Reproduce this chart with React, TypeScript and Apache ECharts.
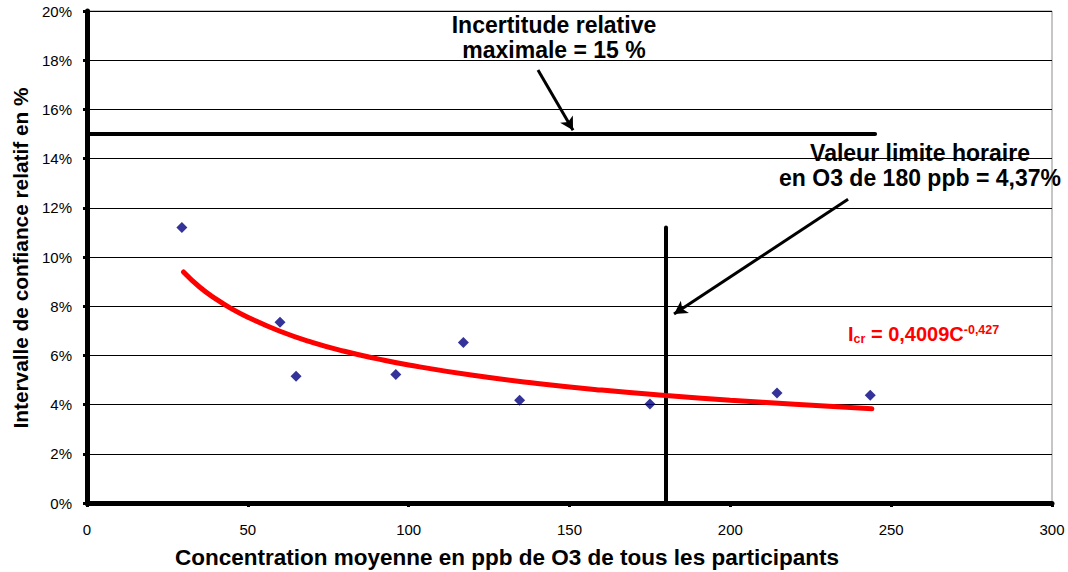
import React, { useEffect, useRef } from "react";
import * as echarts from "echarts";

// Measured points: concentration (ppb) vs relative confidence interval (%)
const concentrations = [29.5, 60, 65, 96, 117, 134.5, 175, 214.5, 243.5];
const intervals = [11.2, 7.35, 5.15, 5.22, 6.52, 4.18, 4.02, 4.47, 4.38];

// Power trend line
const trendX = [30, 35, 40, 45, 50, 60, 70, 80, 90, 100, 120, 140, 160, 180, 200, 220, 244];
const trendY = [9.39, 8.78, 8.3, 7.89, 7.55, 6.98, 6.53, 6.17, 5.87, 5.61, 5.19, 4.86, 4.59, 4.37, 4.18, 4.01, 3.83];

// Reference lines
const maxUncertaintyX = [0, 245];
const maxUncertaintyY = [15, 15];
const limitX = [180, 180];
const limitY = [0, 11.2];

// Arrow annotations (data coords: start, end)
const arrow1 = [[140.2, 17.6], [151.1, 15.15]];
const arrow2 = [[236.6, 12.35], [182.5, 7.68]];

const xTicks = { min: 0, max: 300, interval: 50 };
const yTicks = { min: 0, max: 20, interval: 2 };

const FONT = '"Liberation Sans", Arial, sans-serif';

export default function App() {
  const ref = useRef<HTMLDivElement>(null);
  useEffect(() => {
    if (!ref.current) return;
    const chart = echarts.init(ref.current, null, { renderer: "svg" });
    const bold = (size: number) => ({ fontFamily: FONT, fontWeight: "bold", fontSize: size, fill: "#000" });
    chart.setOption({
      animation: false,
      backgroundColor: "#fff",
      grid: {
        left: 87, right: 16, top: 11, bottom: 69, containLabel: false,
        show: true, borderColor: "#8c8c8c", borderWidth: 1, backgroundColor: "transparent",
      },
      xAxis: {
        type: "value", min: xTicks.min, max: xTicks.max, interval: xTicks.interval,
        axisLine: { show: true, onZero: false, lineStyle: { color: "#000", width: 5 } },
        axisTick: { show: true, inside: false, length: 4, lineStyle: { color: "#000", width: 3 } },
        axisLabel: { color: "#000", fontFamily: FONT, fontSize: 15, margin: 19 },
        splitLine: { show: false },
      },
      yAxis: {
        type: "value", min: yTicks.min, max: yTicks.max, interval: yTicks.interval,
        axisLine: { show: true, onZero: false, lineStyle: { color: "#000", width: 5 } },
        axisTick: { show: true, inside: false, length: 4, lineStyle: { color: "#000", width: 3 } },
        axisLabel: { color: "#000", fontFamily: FONT, fontSize: 15, margin: 15, formatter: "{value}%" },
        splitLine: { show: true, lineStyle: { color: "#000", width: 1 } },
      },
      series: [
        {
          type: "line",
          data: maxUncertaintyX.map((x, i) => [x, maxUncertaintyY[i]]),
          showSymbol: false, symbol: "none",
          lineStyle: { color: "#000", width: 4, cap: "round" },
          z: 3,
          markLine: {
            silent: true,
            symbol: ["none", "arrow"],
            symbolSize: [11, 13],
            label: { show: false },
            lineStyle: { color: "#000", width: 3, type: "solid" },
            data: [
              [{ coord: arrow1[0] }, { coord: arrow1[1] }],
              [{ coord: arrow2[0] }, { coord: arrow2[1] }],
            ],
          },
        },
        {
          type: "line",
          data: limitX.map((x, i) => [x, limitY[i]]),
          showSymbol: false, symbol: "none",
          lineStyle: { color: "#000", width: 4, cap: "round" },
          z: 3,
        },
        {
          type: "line",
          data: trendX.map((x, i) => [x, trendY[i]]),
          showSymbol: false, symbol: "none", smooth: true,
          lineStyle: { color: "#ff0000", width: 5, cap: "round" },
          z: 4,
        },
        {
          type: "scatter",
          data: concentrations.map((x, i) => [x, intervals[i]]),
          symbol: "diamond", symbolSize: 11,
          itemStyle: { color: "#000080" },
          z: 5,
        },
      ],
      graphic: [
        { type: "text", x: 507, y: 557, style: { ...bold(22.5), text: "Concentration moyenne en ppb de O3 de tous les participants", textAlign: "center", textVerticalAlign: "middle" } },
        { type: "text", x: 20, y: 258, rotation: Math.PI / 2, style: { ...bold(20.8), text: "Intervalle de confiance relatif en %", textAlign: "center", textVerticalAlign: "middle" } },
        { type: "text", x: 554, y: 25, style: { ...bold(23), text: "Incertitude relative", textAlign: "center", textVerticalAlign: "middle" } },
        { type: "text", x: 554, y: 50, style: { ...bold(23), text: "maximale = 15 %", textAlign: "center", textVerticalAlign: "middle" } },
        { type: "text", x: 920, y: 153, style: { ...bold(23), text: "Valeur limite horaire", textAlign: "center", textVerticalAlign: "middle" } },
        { type: "text", x: 920, y: 178, style: { ...bold(23), text: "en O3 de 180 ppb = 4,37%", textAlign: "center", textVerticalAlign: "middle" } },
        {
          type: "text", x: 848, y: 334,
          style: {
            text: "{m|I}{sub|cr}{m| = 0,4009C}{sup|-0,427}",
            textAlign: "left", textVerticalAlign: "middle",
            fill: "#ff0000", fontFamily: FONT, fontWeight: "bold", fontSize: 20,
            rich: {
              m: { fill: "#ff0000", fontFamily: FONT, fontWeight: "bold", fontSize: 20, lineHeight: 22, verticalAlign: "middle" },
              sub: { fill: "#ff0000", fontFamily: FONT, fontWeight: "bold", fontSize: 12.5, lineHeight: 13, verticalAlign: "bottom" },
              sup: { fill: "#ff0000", fontFamily: FONT, fontWeight: "bold", fontSize: 12.5, lineHeight: 13, verticalAlign: "top" },
            },
          },
        },
      ],
    });
    return () => chart.dispose();
  }, []);
  return <div ref={ref} style={{ position: "fixed", left: 0, top: 0, width: 1068, height: 572 }} />;
}
